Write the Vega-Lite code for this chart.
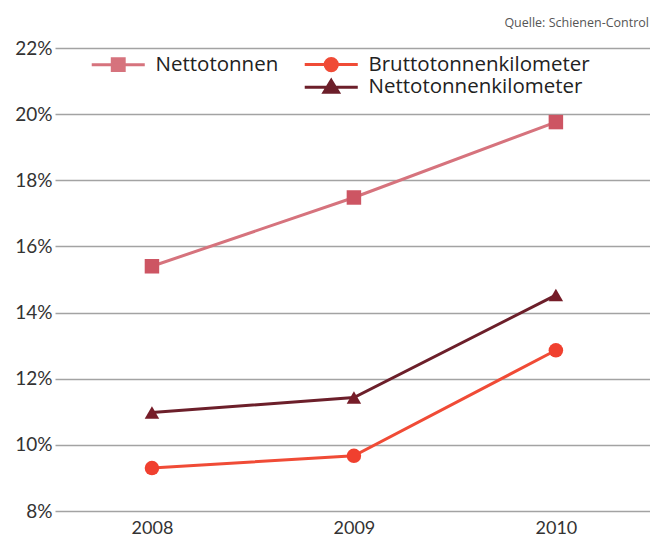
{
  "$schema": "https://vega.github.io/schema/vega-lite/v6.json",
  "width": 595,
  "height": 463,
  "autosize": "none",
  "padding": {"left": 55, "top": 48, "right": 0, "bottom": 25},
  "background": "white",
  "title": {
    "text": "Quelle: Schienen-Control",
    "anchor": "end",
    "orient": "top",
    "fontSize": 12.5,
    "fontWeight": "normal",
    "color": "#555555",
    "font": "Open Sans",
    "offset": 10,
    "dx": -1
  },
  "data": {
    "values": [
      {"year": 2008, "series": "Nettotonnen", "value": 15.4},
      {"year": 2009, "series": "Nettotonnen", "value": 17.48},
      {"year": 2010, "series": "Nettotonnen", "value": 19.76},
      {"year": 2008, "series": "Bruttotonnenkilometer", "value": 9.3},
      {"year": 2009, "series": "Bruttotonnenkilometer", "value": 9.67},
      {"year": 2010, "series": "Bruttotonnenkilometer", "value": 12.86},
      {"year": 2008, "series": "Nettotonnenkilometer", "value": 10.98},
      {"year": 2009, "series": "Nettotonnenkilometer", "value": 11.43},
      {"year": 2010, "series": "Nettotonnenkilometer", "value": 14.53}
    ]
  },
  "encoding": {
    "x": {
      "field": "year",
      "type": "quantitative",
      "scale": {"domain": [2007.52, 2010.466], "nice": false, "zero": false},
      "axis": {
        "title": null,
        "values": [2008, 2009, 2010],
        "format": "d",
        "grid": false,
        "domain": false,
        "ticks": false,
        "labelPadding": 8,
        "labelFontSize": 18,
        "labelFont": "Lato",
        "labelColor": "#333333",
        "labelFlush": false
      }
    },
    "y": {
      "field": "value",
      "type": "quantitative",
      "scale": {"domain": [8, 22], "nice": false, "zero": false},
      "axis": {
        "title": null,
        "values": [8, 10, 12, 14, 16, 18, 20, 22],
        "labelExpr": "datum.value + '%'",
        "grid": true,
        "gridColor": "#a3a3a3",
        "gridWidth": 1.5,
        "domain": false,
        "ticks": false,
        "labelPadding": 3,
        "labelFontSize": 19,
        "labelFont": "Lato",
        "labelColor": "#333333",
        "labelFlush": false
      }
    }
  },
  "layer": [
    {
      "mark": {"type": "line", "strokeWidth": 3},
      "encoding": {
        "color": {
          "field": "series",
          "type": "nominal",
          "scale": {
            "domain": ["Nettotonnen", "Bruttotonnenkilometer", " ", "Nettotonnenkilometer"],
            "range": ["#d6737d", "#f04b36", "transparent", "#6c1f2a"]
          },
          "legend": {
            "orient": "none",
            "legendX": 53,
            "legendY": 6,
            "direction": "horizontal",
            "columns": 2,
            "columnPadding": 19,
            "rowPadding": -6,
            "padding": 0,
            "title": null,
            "labelFontSize": 20.5,
            "labelFont": "Open Sans",
            "labelColor": "#222222",
            "labelLimit": 400,
            "symbolSize": 289,
            "symbolStrokeWidth": 3,
            "labelOffset": 27,
            "encode": {
              "symbols": {
                "update": {
                  "shape": {"signal": "datum.value === 'Nettotonnen' ? 'M-3.12,0H3.12M-0.7,-0.7H0.7V0.7H-0.7Z' : datum.value === 'Bruttotonnenkilometer' ? 'M-3.12,0H3.12M0.72,0A0.72,0.72 0 1,1 -0.72,0A0.72,0.72 0 1,1 0.72,0Z' : datum.value === 'Nettotonnenkilometer' ? 'M-3.12,0H3.12M0,-0.8L0.85,0.6H-0.85Z' : 'M0,0'"},
                  "fill": {"signal": "scale('color', datum.value)"},
                  "stroke": {"signal": "scale('color', datum.value)"},
                  "opacity": {"value": 1}
                }
              }
            }
          }
        }
      }
    },
    {
      "transform": [{"filter": "datum.series === 'Nettotonnen'"}],
      "mark": {"type": "point", "shape": "square", "filled": true, "opacity": 1, "size": 210, "color": "#cd5563"},
      "encoding": {}
    },
    {
      "transform": [{"filter": "datum.series === 'Bruttotonnenkilometer'"}],
      "mark": {"type": "point", "shape": "circle", "filled": true, "opacity": 1, "size": 210, "color": "#f0402f"},
      "encoding": {}
    },
    {
      "transform": [{"filter": "datum.series === 'Nettotonnenkilometer'"}],
      "mark": {"type": "point", "shape": "triangle-up", "filled": true, "opacity": 1, "size": 210, "color": "#761c28"},
      "encoding": {}
    }
  ],
  "config": {"view": {"stroke": null}}
}
